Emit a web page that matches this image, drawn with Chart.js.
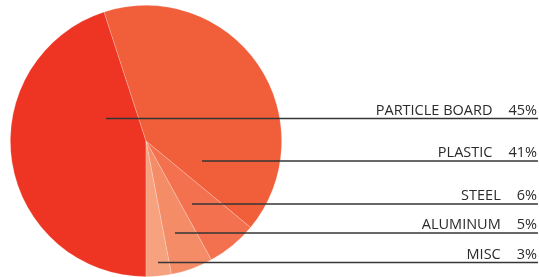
<!DOCTYPE html>
<html>
<head>
<meta charset="utf-8">
<script src="https://cdn.jsdelivr.net/npm/chart.js@4/dist/chart.umd.min.js"></script>
<style>
  html, body { margin: 0; padding: 0; background: #ffffff; }
  #wrap { width: 539px; height: 277px; position: relative; }
</style>
</head>
<body>
<div id="wrap"><canvas id="c" width="539" height="277"></canvas></div>
<script>
const categories = ["PARTICLE BOARD", "PLASTIC", "STEEL", "ALUMINUM", "MISC"];
const shares = [45, 41, 6, 5, 3];
const pctLabels = ["45%", "41%", "6%", "5%", "3%"];
const sliceColors = ["#EE3524", "#F15E3A", "#F3714E", "#F58C68", "#F7A27F"];

// leader layout: line y and start x offset from pie centre (style/layout only)
const leaderY = [118.5, 161, 204, 233, 262.5];
const leaderStartDx = [-40, 56, 46, 29, 12];

const leaderPlugin = {
  id: 'leaders',
  afterDraw(chart) {
    const ctx = chart.ctx;
    const arc0 = chart.getDatasetMeta(0).data[0];
    const cx = arc0.x;
    const right = chart.width - 1;
    ctx.save();
    ctx.font = '14.5px "Open Sans", sans-serif';
    ctx.textBaseline = 'alphabetic';
    categories.forEach((name, i) => {
      const y = leaderY[i];
      ctx.strokeStyle = '#363636';
      ctx.lineWidth = 1.3;
      ctx.beginPath();
      ctx.moveTo(cx + leaderStartDx[i], y);
      ctx.lineTo(right, y);
      ctx.stroke();
      ctx.fillStyle = '#2b2b2b';
      ctx.textAlign = 'right';
      const pct = pctLabels[i];
      const tx = right - 1;
      ctx.fillText(pct, tx, y - 4);
      const w = ctx.measureText(pct).width;
      ctx.fillText(name, tx - w - 16, y - 4);
    });
    ctx.restore();
  }
};

new Chart(document.getElementById('c'), {
  type: 'pie',
  data: {
    labels: categories,
    datasets: [{
      data: shares,
      backgroundColor: sliceColors,
      borderColor: 'rgba(255,255,255,0.3)',
      borderWidth: 0.7
    }]
  },
  options: {
    responsive: false,
    animation: false,
    rotation: 180,
    layout: { padding: { left: 10, right: 257, top: 5, bottom: 0 } },
    plugins: {
      legend: { display: false },
      tooltip: { enabled: false },
      title: { display: false }
    }
  },
  plugins: [leaderPlugin]
});
</script>
</body>
</html>
